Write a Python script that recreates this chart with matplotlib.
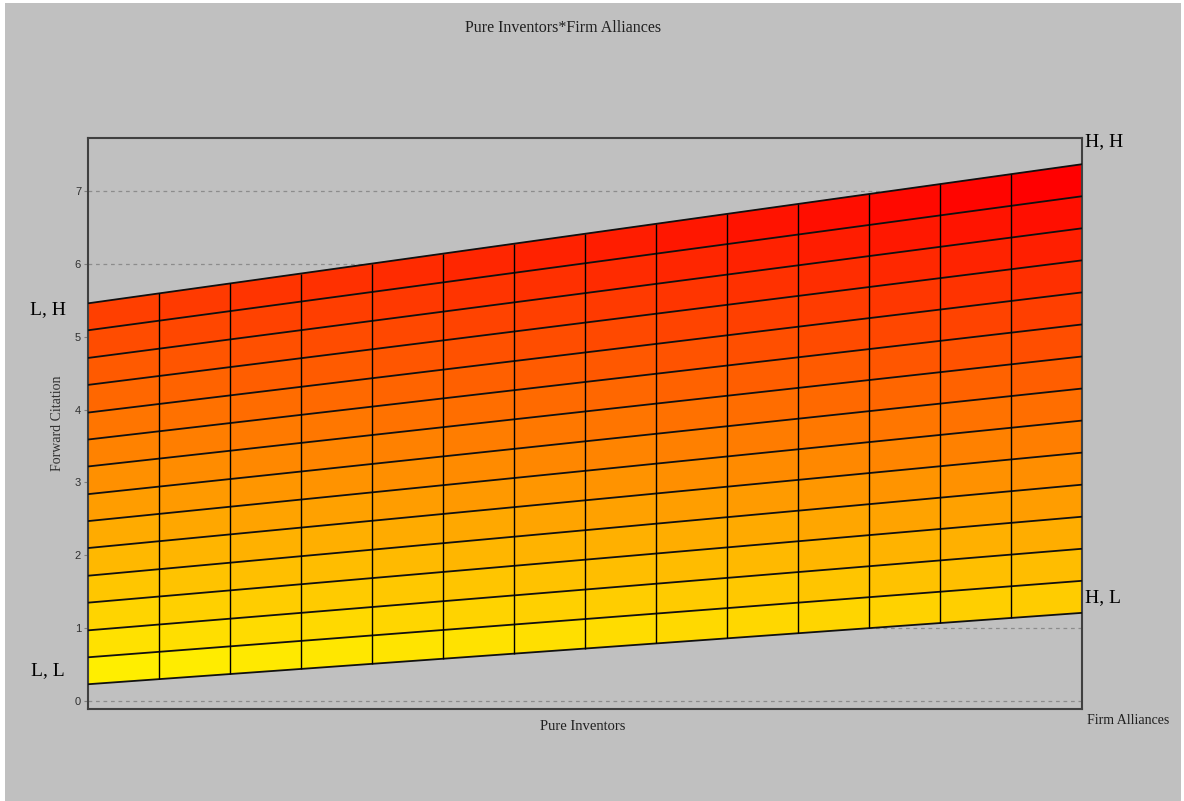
import numpy as np
import matplotlib
matplotlib.use('Agg')
import matplotlib.pyplot as plt
from matplotlib.collections import PolyCollection, LineCollection
from matplotlib.colors import LinearSegmentedColormap, Normalize
from matplotlib.patches import Rectangle

# surface lines: value at Pure Inventors = L (left) and = H (right),
# one line per Firm Alliances level, bottom (L) to top (H)
line_left = [0.23, 0.60, 0.97, 1.35, 1.72, 2.10, 2.47, 2.84,
             3.22, 3.59, 3.96, 4.34, 4.71, 5.09, 5.46]
line_right = [1.21, 1.65, 2.09, 2.53, 2.97, 3.41, 3.85, 4.29,
              4.73, 5.17, 5.61, 6.05, 6.49, 6.93, 7.37]
n_cols = 14
corner_labels = ['L, L', 'L, H', 'H, L', 'H, H']
y_ticks = [0, 1, 2, 3, 4, 5, 6, 7]

W, H = 1184, 801
bg = '#c0c0c0'

fig = plt.figure(figsize=(W / 100, H / 100), dpi=100, facecolor='white')
fig.patches.append(Rectangle((5 / W, 0.0), 1 - 8 / W, 1 - 3 / H,
                             transform=fig.transFigure, facecolor=bg,
                             edgecolor='none', zorder=-10))

ax = fig.add_axes([88 / W, 1 - 709 / H, (1082 - 88) / W, (709 - 138) / H])
ax.set_facecolor(bg)

left = np.array(line_left)
right = np.array(line_right)
xs = np.arange(n_cols + 1)

def line_y(i, x):
    return left[i] + (right[i] - left[i]) * x / n_cols

# flat-coloured cells
polys, vals = [], []
for i in range(len(left) - 1):
    for j in range(n_cols):
        pts = [(xs[j], line_y(i, xs[j])), (xs[j + 1], line_y(i, xs[j + 1])),
               (xs[j + 1], line_y(i + 1, xs[j + 1])), (xs[j], line_y(i + 1, xs[j]))]
        polys.append(pts)
        vals.append(np.mean([p[1] for p in pts]))
vals = np.array(vals)

cmap = LinearSegmentedColormap.from_list('yr', [(1, 238 / 255, 0), (1, 0, 0)])
pc = PolyCollection(polys, array=vals, cmap=cmap,
                    norm=Normalize(vals.min(), vals.max()),
                    edgecolors='face', linewidths=0.3, zorder=2)
ax.add_collection(pc)

# horizontal mesh lines
hsegs = [[(0, left[i]), (n_cols, right[i])] for i in range(len(left))]
ax.add_collection(LineCollection(hsegs, colors='#101010', linewidths=1.3, zorder=3))
# vertical mesh lines
vsegs = [[(x, line_y(0, x)), (x, line_y(len(left) - 1, x))] for x in xs[1:-1]]
ax.add_collection(LineCollection(vsegs, colors='black', linewidths=1.0, zorder=3))

ax.set_xlim(0, n_cols)
ax.set_ylim(-0.11, 7.73)
ax.set_xticks([])
ax.set_yticks(y_ticks)
ax.tick_params(axis='y', length=3, width=0.8, color='#808080', labelsize=8,
               labelcolor='#303030', pad=2)
for lab in ax.get_yticklabels():
    lab.set_family('Liberation Sans')
ax.grid(axis='y', linestyle=(0, (3, 3)), color='#8c8c8c', linewidth=0.9, zorder=0)
ax.set_axisbelow(True)
for s in ax.spines.values():
    s.set_color('#404040')
    s.set_linewidth(1.5)

serif = 'Liberation Serif'
ax.set_ylabel('Forward Citation', family=serif, fontsize=10, color='#303030',
              labelpad=8)

fig.text(563 / W, 1 - 28 / H, 'Pure Inventors*Firm Alliances', family=serif,
         fontsize=11.5, ha='center', va='center', color='#202020')
fig.text(583 / W, 1 - 727 / H, 'Pure Inventors', family=serif, fontsize=10.5,
         ha='center', va='center', color='#202020')
fig.text(1128 / W, 1 - 721 / H, 'Firm Alliances', family=serif, fontsize=10,
         ha='center', va='center', color='#202020')

# corner labels
fig.text(48 / W, 1 - 671 / H, corner_labels[0], family=serif, fontsize=14,
         ha='center', va='center')
fig.text(48 / W, 1 - 310 / H, corner_labels[1], family=serif, fontsize=14,
         ha='center', va='center')
fig.text(1085 / W, 1 - 598 / H, corner_labels[2], family=serif, fontsize=14,
         ha='left', va='center')
fig.text(1085 / W, 1 - 142 / H, corner_labels[3], family=serif, fontsize=14,
         ha='left', va='center')

fig.savefig('out.png', dpi=100, facecolor=fig.get_facecolor())
